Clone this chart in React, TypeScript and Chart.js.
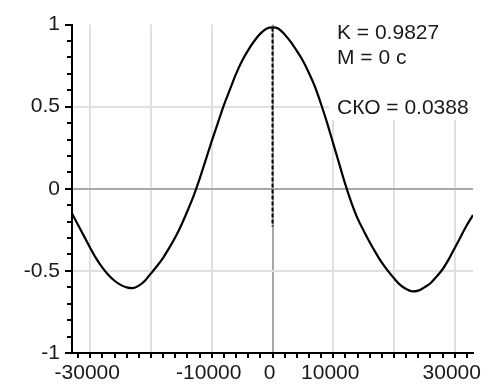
import React, { useEffect, useRef } from "react";
import { Chart, registerables } from "chart.js";

Chart.register(...registerables);

// Sample lags (x) and correlation values (y)
const lagValues = [
  -33000, -32000, -31000, -30000, -29000, -28000, -27000, -26000, -25000, -24000,
  -23000, -22000, -21000, -20000, -19000, -18000, -17000, -16000, -15000, -14000,
  -13000, -12000, -11000, -10000, -9000, -8000, -7000, -6000, -5000, -4000,
  -3000, -2000, -1000, 0, 1000, 2000, 3000, 4000, 5000, 6000,
  7000, 8000, 9000, 10000, 11000, 12000, 13000, 14000, 15000, 16000,
  17000, 18000, 19000, 20000, 21000, 22000, 23000, 24000, 25000, 26000,
  27000, 28000, 29000, 30000, 31000, 32000, 33000,
];
const corrValues = [
  -0.15, -0.22, -0.29, -0.36, -0.425, -0.48, -0.525, -0.56, -0.585, -0.6,
  -0.605, -0.59, -0.56, -0.515, -0.47, -0.42, -0.36, -0.295, -0.22, -0.135,
  -0.045, 0.06, 0.175, 0.29, 0.4, 0.51, 0.605, 0.7, 0.78, 0.845,
  0.9, 0.945, 0.975, 0.983, 0.975, 0.94, 0.895, 0.84, 0.78, 0.705,
  0.62, 0.515, 0.4, 0.275, 0.15, 0.025, -0.085, -0.18, -0.255, -0.325,
  -0.39, -0.45, -0.5, -0.545, -0.585, -0.61, -0.625, -0.62, -0.6, -0.575,
  -0.535, -0.49, -0.43, -0.36, -0.29, -0.22, -0.16,
];
// Dashed marker at the maximum
const markerX = [0, 0];
const markerY = [0.983, -0.23];

const xMin = -33000;
const xMax = 33000;
const xMinorStep = 2000;
const xMinorFirst = -32000;
const xMinorLast = 32000;
const xGridStep = 10000;
const xTickLabels = [-30000, -10000, 0, 10000, 30000];

const yMin = -1;
const yMax = 1;
const yMinorStep = 0.1;
const yTickLabels = [-1, -0.5, 0, 0.5, 1];

const infoLines = ["K = 0.9827", "M = 0 с", "", "СКО = 0.0388"];

const FONT = "'Liberation Sans', Arial, sans-serif";

export default function App() {
  const canvasRef = useRef<HTMLCanvasElement | null>(null);

  useEffect(() => {
    document.body.style.margin = "0";
    const canvas = canvasRef.current;
    if (!canvas) return;

    const isGridX = (v: number) => Math.abs(v % xGridStep) < 1e-6;
    const isMajorY = (v: number) => Math.abs(Math.round(v * 10) % 5) === 0;

    const tickPlugin = {
      id: "tickMarks",
      afterDraw(chart: any) {
        const { ctx, chartArea, scales } = chart;
        ctx.save();
        ctx.strokeStyle = "#000";
        ctx.lineWidth = 2;
        ctx.beginPath();
        for (const t of scales.x.ticks) {
          const px = Math.round(scales.x.getPixelForValue(t.value));
          ctx.moveTo(px, chartArea.bottom);
          ctx.lineTo(px, chartArea.bottom + 5);
        }
        for (const t of scales.y.ticks) {
          const py = Math.round(scales.y.getPixelForValue(t.value));
          const len = isMajorY(t.value) ? 7 : 5;
          ctx.moveTo(chartArea.left, py);
          ctx.lineTo(chartArea.left - len, py);
        }
        ctx.stroke();
        ctx.restore();
      },
    };

    const infoPlugin = {
      id: "infoBox",
      beforeDatasetsDraw(chart: any) {
        const { ctx } = chart;
        ctx.save();
        ctx.fillStyle = "#fff";
        ctx.fillRect(329, 0, chart.width - 329, 120);
        ctx.fillStyle = "#1a1a1a";
        ctx.font = `21px ${FONT}`;
        ctx.textBaseline = "alphabetic";
        ctx.textAlign = "left";
        infoLines.forEach((line, i) => {
          if (line) ctx.fillText(line, 337, 39 + i * 25);
        });
        ctx.restore();
      },
    };

    const chart = new Chart(canvas, {
      type: "scatter",
      data: {
        datasets: [
          {
            data: lagValues.map((x, i) => ({ x, y: corrValues[i] })),
            showLine: true,
            borderColor: "#000",
            borderWidth: 2.2,
            pointRadius: 0,
            cubicInterpolationMode: "monotone",
          },
          {
            data: markerX.map((x, i) => ({ x, y: markerY[i] })),
            showLine: true,
            borderColor: "#000",
            borderWidth: 2,
            borderDash: [4, 2],
            pointRadius: 0,
          },
        ],
      },
      options: {
        animation: false,
        responsive: false,
        layout: { padding: { top: 19, right: 23, left: 0, bottom: 0 } },
        plugins: { legend: { display: false }, tooltip: { enabled: false } },
        scales: {
          x: {
            type: "linear",
            min: xMin,
            max: xMax,
            afterBuildTicks: (scale: any) => {
              const ticks = [];
              for (let v = xMinorFirst; v <= xMinorLast; v += xMinorStep) ticks.push({ value: v });
              scale.ticks = ticks;
            },
            afterFit: (scale: any) => {
              scale.height = 32;
            },
            grid: {
              drawTicks: false,
              lineWidth: 2,
              color: (ctx: any) => {
                const v = ctx.tick ? ctx.tick.value : NaN;
                if (!isGridX(v)) return "rgba(0,0,0,0)";
                return v === 0 ? "#a8a8a8" : "#e0e0e0";
              },
            },
            border: { display: true, color: "#000", width: 2 },
            ticks: {
              autoSkip: false,
              maxRotation: 0,
              padding: 8,
              labelOffset: -3,
              color: "#1a1a1a",
              font: { family: FONT, size: 21 },
              callback: (v: any) => (xTickLabels.includes(Number(v)) ? String(v) : ""),
            },
          },
          y: {
            type: "linear",
            min: yMin,
            max: yMax,
            afterBuildTicks: (scale: any) => {
              const ticks = [];
              const n = Math.round((yMax - yMin) / yMinorStep);
              for (let i = 0; i <= n; i++) ticks.push({ value: Math.round((yMin + i * yMinorStep) * 10) / 10 });
              scale.ticks = ticks;
            },
            afterFit: (scale: any) => {
              scale.width = 72;
            },
            grid: {
              drawTicks: false,
              lineWidth: 2,
              color: (ctx: any) => {
                const v = ctx.tick ? ctx.tick.value : NaN;
                if (!isMajorY(v) || Math.abs(v) === 1) return "rgba(0,0,0,0)";
                return v === 0 ? "#a8a8a8" : "#e0e0e0";
              },
            },
            border: { display: true, color: "#000", width: 2 },
            ticks: {
              autoSkip: false,
              padding: 12,
              color: "#1a1a1a",
              font: { family: FONT, size: 21 },
              callback: (v: any) => {
                const n = Math.round(Number(v) * 10) / 10;
                return yTickLabels.includes(n) ? String(n) : "";
              },
            },
          },
        },
      },
      plugins: [infoPlugin, tickPlugin],
    } as any);

    return () => chart.destroy();
  }, []);

  return (
    <div style={{ width: 496, height: 385 }}>
      <canvas ref={canvasRef} width={496} height={385} />
    </div>
  );
}
